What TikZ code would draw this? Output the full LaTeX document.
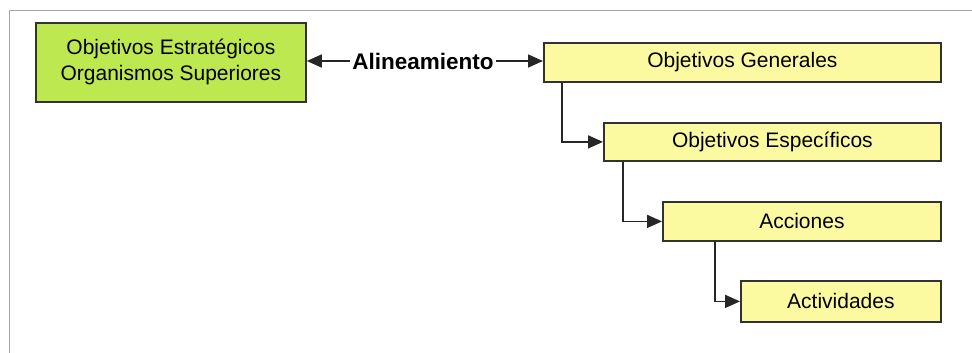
\documentclass[tikz,border=0pt]{standalone}
\usepackage{fontspec}
\setmainfont{Liberation Sans}
\usetikzlibrary{arrows.meta,shadows}
\definecolor{lime}{RGB}{190,232,80}
\definecolor{paleyellow}{RGB}{252,250,160}
\definecolor{edge}{RGB}{50,50,50}
\begin{document}
\begin{tikzpicture}[x=1pt,y=-1pt,
  box/.style={draw=edge,line width=1.8pt,anchor=north west,inner sep=0pt,
    align=center,font=\fontsize{21}{26}\selectfont,
    drop shadow={shadow xshift=1.5pt,shadow yshift=-1.5pt,fill=gray!45,opacity=0.6}},
  ybox/.style={box,fill=paleyellow},
  link/.style={draw=black!85,line width=1.6pt,-{Triangle[length=15pt,width=13pt]}}]
\useasboundingbox (0,0) rectangle (972,353);
\draw[gray!70,line width=0.8pt] (9,353) -- (9,10) -- (972,10);
\node[box,fill=lime,minimum width=270pt,minimum height=79pt] (strat) at (35,22)
  {Objetivos Estratégicos\\Organismos Superiores};
\node[ybox,minimum width=397pt,minimum height=39pt] (gen) at (543,42) {Objetivos Generales};
\node[ybox,minimum width=337pt,minimum height=38pt] (esp) at (603,122) {Objetivos Específicos};
\node[ybox,minimum width=278pt,minimum height=39pt] (acc) at (662,201) {Acciones};
\node[ybox,minimum width=200pt,minimum height=41pt] (act) at (740,280) {Actividades};
\node[font=\fontsize{22.5}{26}\selectfont\bfseries,inner sep=2pt] (al) at (423,61) {Alineamiento};
\draw[link] (al.west) -- (strat.east |- al.west);
\draw[link] (al.east) -- (gen.west |- al.east);
\draw[link] (gen.south west) ++(19,0) coordinate (g1) -- (g1 |- esp.west) -- (esp.west);
\draw[link] (esp.south west) ++(20,0) coordinate (e1) -- (e1 |- acc.west) -- (acc.west);
\draw[link] (acc.south west) ++(53,0) coordinate (a1) -- (a1 |- act.west) -- (act.west);
\end{tikzpicture}
\end{document}
